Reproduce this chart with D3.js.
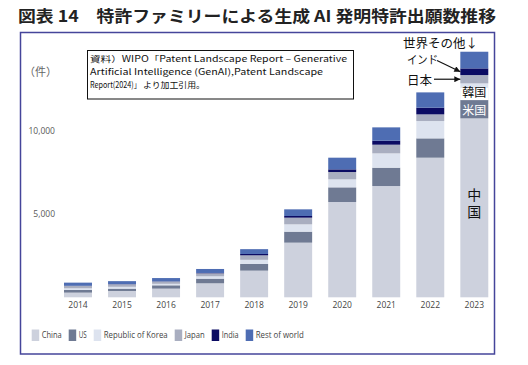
<!DOCTYPE html>
<html>
<head>
<meta charset="utf-8">
<script src="https://cdn.jsdelivr.net/npm/d3@7"></script>
<style>
  body { margin: 0; background: #fff; }
  svg { display: block; }
  .jp { font-family: "Noto Sans CJK JP", sans-serif; }
  .lat { font-family: "Open Sans", "DejaVu Sans", sans-serif; }
</style>
</head>
<body>
<svg id="chart" width="528" height="365"></svg>
<script>
// data (patent families by inventor location)
const years = ["2014", "2015", "2016", "2017", "2018", "2019", "2020", "2021", "2022", "2023"];
const china = [280, 380, 520, 840, 1600, 3280, 5720, 6680, 8380, 10740];
const us = [160, 140, 200, 280, 400, 660, 880, 1100, 1160, 1100];
const korea = [100, 110, 90, 140, 250, 440, 480, 860, 1040, 1000];
const japan = [140, 150, 130, 180, 270, 400, 440, 520, 400, 500];
const india = [10, 10, 15, 20, 80, 100, 160, 240, 400, 400];
const rest = [190, 180, 200, 240, 290, 400, 700, 800, 920, 1000];
const yTicks = [5000, 10000];

const keys = ["china", "us", "korea", "japan", "india", "rest"];
const legendLabels = ["China", "US", "Republic of Korea", "Japan", "India", "Rest of world"];
const colors = ["#cdd1dd", "#6f7a93", "#dde3ef", "#a9aec0", "#0b0b63", "#4e6db3"];

const rows = years.map((y, i) => ({
  year: y,
  china: china[i],
  us: us[i],
  korea: korea[i],
  japan: japan[i],
  india: india[i],
  rest: rest[i],
}));

const svg = d3.select("#chart");
const color = d3.scaleOrdinal().domain(keys).range(colors);

const xScale = d3
  .scaleBand()
  .domain(years)
  .range([50.8, 501.5])
  .paddingInner(0.365)
  .paddingOuter(0.3);

const yScale = d3.scaleLinear().domain([0, 10000]).range([297.3, 130.7]);

// title
svg
  .append("text")
  .attr("class", "jp")
  .attr("x", 18)
  .attr("y", 21.5)
  .attr("font-size", 16)
  .attr("font-weight", 700)
  .attr("fill", "#222")
  .attr("textLength", 478)
  .attr("lengthAdjust", "spacingAndGlyphs")
  .text("図表 14　特許ファミリーによる生成 AI 発明特許出願数推移");

// frame
svg
  .append("rect")
  .attr("x", 20.5)
  .attr("y", 32.5)
  .attr("width", 474)
  .attr("height", 321.5)
  .attr("fill", "none")
  .attr("stroke", "#45459a")
  .attr("stroke-width", 1.5);

// stacked bars
const series = d3.stack().keys(keys)(rows);

svg
  .append("g")
  .selectAll("g")
  .data(series)
  .join("g")
  .attr("fill", (d) => color(d.key))
  .selectAll("rect")
  .data((d) => d)
  .join("rect")
  .attr("x", (d) => xScale(d.data.year))
  .attr("width", xScale.bandwidth())
  .attr("y", (d) => yScale(d[1]))
  .attr("height", (d) => yScale(d[0]) - yScale(d[1]));

// y axis labels (no line, no gridlines)
const yAxis = d3.axisLeft(yScale).tickValues(yTicks).tickSize(0).tickPadding(0)
  .tickFormat(d3.format(","));
const yAxisG = svg.append("g").attr("transform", "translate(55,0)").call(yAxis);
yAxisG.select(".domain").remove();
yAxisG
  .selectAll("text")
  .attr("class", "lat")
  .attr("font-size", 8.5)
  .attr("fill", "#595959");

// x axis labels
const xAxis = d3.axisBottom(xScale).tickSize(0).tickPadding(0);
const xAxisG = svg.append("g").attr("transform", "translate(0,302)").call(xAxis);
xAxisG.select(".domain").remove();
xAxisG
  .selectAll("text")
  .attr("class", "lat")
  .attr("font-size", 8.5)
  .attr("fill", "#444");

// unit label
svg
  .append("text")
  .attr("class", "jp")
  .attr("x", 24)
  .attr("y", 75.5)
  .attr("font-size", 11)
  .attr("fill", "#666")
  .text("（件）");

// source box
svg
  .append("rect")
  .attr("x", 87.5)
  .attr("y", 50.5)
  .attr("width", 266)
  .attr("height", 48.5)
  .attr("fill", "#fff")
  .attr("stroke", "#111")
  .attr("stroke-width", 1);

const sourceLines = [
  [{ t: "資料）WIPO「Patent Landscape Report – Generative", w: 257 }],
  [{ t: "Artificial Intelligence (GenAI),Patent Landscape", w: 233 }],
  [{ t: "Report(2024)」", w: 51 }, { t: "より加工引用。", w: 62, x: 143 }],
];
svg
  .append("g")
  .selectAll("text")
  .data(sourceLines)
  .join("text")
  .attr("class", "jp")
  .attr("x", 90)
  .attr("y", (d, i) => 62 + i * 13)
  .attr("font-size", 8.5)
  .attr("fill", "#111")
  .selectAll("tspan")
  .data((d) => d)
  .join("tspan")
  .attr("x", (d) => d.x || null)
  .attr("textLength", (d) => d.w)
  .attr("lengthAdjust", "spacingAndGlyphs")
  .text((d) => d.t);

// annotations on the 2023 bar
const last = series.map((s) => s[s.length - 1]);
const bx = xScale("2023");
const bw = xScale.bandwidth();
const cx = bx + bw / 2;
const mid = (k) => yScale((last[k][0] + last[k][1]) / 2);

// korea label (white box over the segment)
const korTop = yScale(last[2][1]) + 4.5;
svg
  .append("rect")
  .attr("x", bx)
  .attr("y", korTop)
  .attr("width", bw)
  .attr("height", yScale(last[2][0]) - korTop)
  .attr("fill", "#fff");
svg
  .append("text")
  .attr("class", "jp")
  .attr("x", cx)
  .attr("y", yScale(last[2][0]) - 3)
  .attr("text-anchor", "middle")
  .attr("font-size", 12)
  .attr("fill", "#111")
  .text("韓国");

svg
  .append("text")
  .attr("class", "jp")
  .attr("x", cx)
  .attr("y", mid(1) + 5.3)
  .attr("text-anchor", "middle")
  .attr("font-size", 12)
  .attr("fill", "#fff")
  .text("米国");

// china label, written vertically
svg
  .append("text")
  .attr("class", "jp")
  .attr("x", cx)
  .attr("y", 205)
  .attr("writing-mode", "vertical-rl")
  .attr("text-anchor", "middle")
  .attr("font-size", 14)
  .attr("letter-spacing", 3.5)
  .attr("fill", "#111")
  .text("中国");

svg
  .append("defs")
  .append("marker")
  .attr("id", "arrow")
  .attr("viewBox", "0 0 10 10")
  .attr("refX", 10)
  .attr("refY", 5)
  .attr("markerWidth", 7)
  .attr("markerHeight", 6)
  .attr("markerUnits", "userSpaceOnUse")
  .attr("orient", "auto")
  .append("path")
  .attr("d", "M0,0L10,5L0,10Z")
  .attr("fill", "#111");

svg
  .append("text")
  .attr("class", "jp")
  .attr("x", 403)
  .attr("y", 47.5)
  .attr("font-size", 12.5)
  .attr("fill", "#111")
  .text("世界その他↓");

svg
  .append("text")
  .attr("class", "jp")
  .attr("x", 407)
  .attr("y", 64)
  .attr("font-size", 11.5)
  .attr("fill", "#111")
  .attr("textLength", 31)
  .attr("lengthAdjust", "spacingAndGlyphs")
  .text("インド");

svg
  .append("line")
  .attr("x1", 437)
  .attr("y1", 60.5)
  .attr("x2", bx)
  .attr("y2", mid(4))
  .attr("stroke", "#111")
  .attr("stroke-width", 1.2)
  .attr("marker-end", "url(#arrow)");

svg
  .append("text")
  .attr("class", "jp")
  .attr("x", 407)
  .attr("y", 85)
  .attr("font-size", 12.5)
  .attr("fill", "#111")
  .text("日本");

svg
  .append("line")
  .attr("x1", 434)
  .attr("y1", mid(3))
  .attr("x2", bx)
  .attr("y2", mid(3))
  .attr("stroke", "#111")
  .attr("stroke-width", 1.2)
  .attr("marker-end", "url(#arrow)");

// legend (text widths squeezed to the narrow source font)
const legendWidths = [20, 8, 64, 20, 17, 48];
const legend = svg.append("g").attr("transform", "translate(31.7,329.5)");
let lx = 0;
legendLabels.forEach((label, i) => {
  const item = legend.append("g").attr("transform", `translate(${lx},0)`);
  item
    .append("rect")
    .attr("width", 7.5)
    .attr("height", 11.5)
    .attr("fill", colors[i]);
  item
    .append("text")
    .attr("class", "lat")
    .attr("x", 10)
    .attr("y", 8.8)
    .attr("font-size", 8.5)
    .attr("fill", "#444")
    .attr("textLength", legendWidths[i])
    .attr("lengthAdjust", "spacingAndGlyphs")
    .text(label);
  lx += 10 + legendWidths[i] + 7;
});
</script>
</body>
</html>
